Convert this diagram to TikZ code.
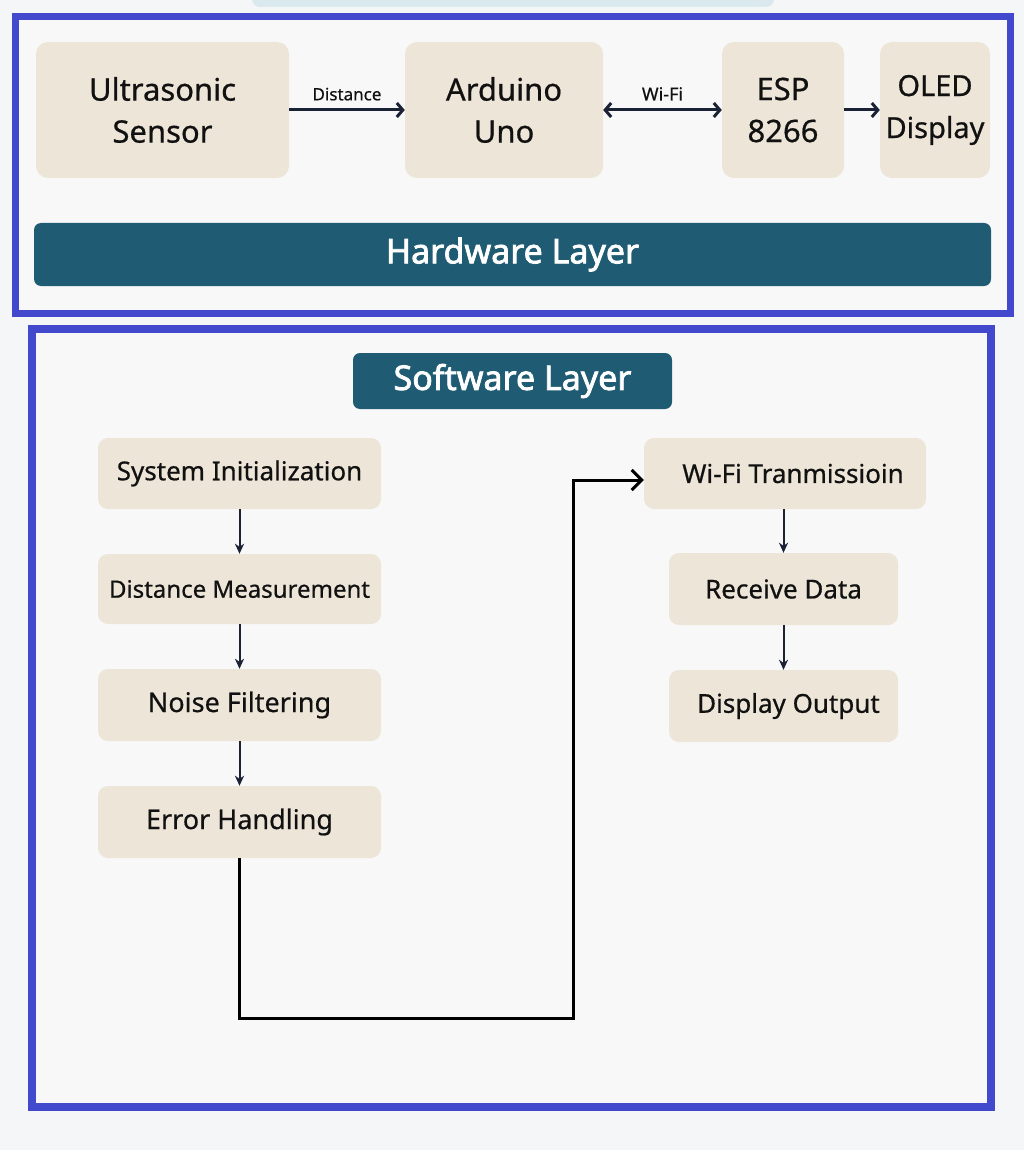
\documentclass[tikz,border=0pt]{standalone}
\usepackage{fontspec}
\setmainfont{Noto Sans}[FakeBold=0.6]
\newfontfamily\layerfont{Noto Sans}[FakeBold=2.2]
\usetikzlibrary{arrows.meta}
\definecolor{bgc}{HTML}{F5F6F7}
\definecolor{innerc}{HTML}{F8F8F8}
\definecolor{beige}{HTML}{ECE5D8}
\definecolor{tealc}{HTML}{1F5C73}
\definecolor{frameblue}{HTML}{4249CC}
\definecolor{arrowc}{HTML}{1B2236}
\definecolor{paleblue}{HTML}{D9E9EE}
\definecolor{txt}{HTML}{111111}
\tikzset{
  hwbox/.style={fill=beige, rounded corners=12pt, align=center, inner sep=0pt, text=txt,
    font=\fontsize{31}{42}\selectfont},
  swbox/.style={fill=beige, rounded corners=10pt, inner sep=0pt, text=txt},
  layerbar/.style={fill=tealc, rounded corners=7pt, inner sep=0pt, text=white,
    font=\layerfont\fontsize{34}{42}\selectfont},
  hwarr/.style={draw=arrowc, line width=3pt, -{Straight Barb[length=6pt,width=14pt]}},
  hwdarr/.style={draw=arrowc, line width=3pt, {Straight Barb[length=6pt,width=14pt]}-{Straight Barb[length=6pt,width=14pt]}},
  swarr/.style={draw=arrowc, line width=2pt, -{Stealth[length=10pt,width=9pt,inset=3pt]}},
  bigarr/.style={draw=black, line width=3pt, -{Straight Barb[length=10pt,width=20pt]}},
  lbl/.style={text=txt, inner sep=0pt},
  frame/.style={draw=frameblue, fill=innerc}
}
\begin{document}
\begin{tikzpicture}[x=1pt,y=-1pt]
\fill[bgc] (0,0) rectangle (1024,1150);
\useasboundingbox (0,0) rectangle (1024,1150);
\fill[paleblue, rounded corners=8pt] (252,-20) rectangle (774,7);

% hardware frame
\draw[frame, line width=7pt] (15.5,17) rectangle (1010.5,313);

\node[hwbox, minimum width=253pt, minimum height=136pt] (us) at (162.5,110) {Ultrasonic\\Sensor};
\node[hwbox, minimum width=198pt, minimum height=136pt] (ard) at (504,110) {Arduino\\Uno};
\node[hwbox, minimum width=122pt, minimum height=136pt] (esp) at (783,110) {ESP\\8266};
\node[hwbox, minimum width=110pt, minimum height=136pt, font=\fontsize{29}{42}\selectfont] (oled) at (935,110) {OLED\\Display};

\draw[hwarr] (us.east) -- node[lbl, above=8pt, font=\fontsize{17}{20}\selectfont] (dlbl) {Distance} (ard.west);
\draw[hwdarr] (ard.east) -- node[lbl, above=8pt, font=\fontsize{18}{20}\selectfont] (wlbl) {Wi-Fi} (esp.west);
\draw[hwarr] (esp.east) -- (oled.west);

\node[layerbar, minimum width=957pt, minimum height=63pt] (hwl) at (512.5,254.5) {Hardware Layer};

% software frame
\draw[frame, line width=8pt] (31.5,329) rectangle (991,1107);

\node[layerbar, minimum width=319pt, minimum height=56pt] (swl) at (512.5,381) {Software Layer};

\node[swbox, minimum width=283pt, minimum height=71pt, font=\fontsize{26}{30}\selectfont] (init) at (239.5,473.5) {System Initialization};
\node[swbox, minimum width=283pt, minimum height=70pt, font=\fontsize{24}{30}\selectfont] (meas) at (239.5,589) {Distance Measurement};
\node[swbox, minimum width=283pt, minimum height=72pt, font=\fontsize{27}{30}\selectfont] (noise) at (239.5,705) {Noise Filtering};
\node[swbox, minimum width=283pt, minimum height=72pt, font=\fontsize{27}{30}\selectfont] (err) at (239.5,822) {Error Handling};

\node[swbox, minimum width=282pt, minimum height=71pt, font=\fontsize{26}{30}\selectfont] (wifi) at (785,473.5) {\hspace*{16pt}Wi-Fi Tranmissioin};
\node[swbox, minimum width=229pt, minimum height=72pt, font=\fontsize{26}{30}\selectfont] (recv) at (783.5,589) {Receive Data};
\node[swbox, minimum width=229pt, minimum height=72pt, font=\fontsize{26}{30}\selectfont] (disp) at (783.5,706) {\hspace*{10pt}Display Output};

\draw[swarr] (init.south) -- (meas.north);
\draw[swarr] (meas.south) -- (noise.north);
\draw[swarr] (noise.south) -- (err.north);
\draw[swarr] (wifi.south -| recv.north) -- (recv.north);
\draw[swarr] (recv.south) -- (disp.north);

\coordinate (c1) at (573,1018);
\coordinate (c2) at (573,480);
\draw[bigarr] (err.south) |- (c1) -- (c2) -- (c2 -| wifi.west);
\end{tikzpicture}
\end{document}
